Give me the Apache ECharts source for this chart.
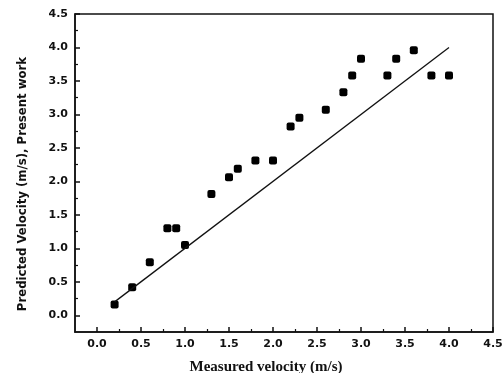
<!DOCTYPE html>
<html>
<head>
<meta charset="utf-8">
<script src="https://cdn.jsdelivr.net/npm/echarts@6/dist/echarts.min.js"></script>
<style>
  html, body { margin: 0; padding: 0; background: #fff; }
  #chart { width: 504px; height: 373px; }
</style>
</head>
<body>
<div id="chart"></div>
<script>
// measured vs predicted velocity (m/s)
var measured = [0.2, 0.4, 0.6, 0.8, 0.9, 1.0, 1.3, 1.5, 1.6, 1.8, 2.0, 2.2, 2.3, 2.6, 2.8, 2.9, 3.0, 3.3, 3.4, 3.6, 3.8, 4.0];
var predicted = [0.16, 0.42, 0.79, 1.30, 1.30, 1.05, 1.81, 2.06, 2.19, 2.31, 2.31, 2.82, 2.95, 3.07, 3.33, 3.58, 3.83, 3.58, 3.83, 3.96, 3.58, 3.58];
// y = x reference line
var lineX = [0.2, 4.0];
var lineY = [0.2, 4.0];
var majorTicks = [0, 0.5, 1, 1.5, 2, 2.5, 3, 3.5, 4, 4.5];
var minorTicks = [0.25, 0.75, 1.25, 1.75, 2.25, 2.75, 3.25, 3.75, 4.25];

var labelFont = { color: "#111", fontFamily: "DejaVu Sans", fontWeight: "bold", fontSize: 11 };

function axisPair(dim) {
  var main = {
    type: "value",
    min: -0.25,
    max: 4.5,
    splitLine: { show: false },
    axisLine: { show: true, onZero: false, lineStyle: { color: "#111", width: 1.5 } },
    axisTick: { show: true, inside: true, length: 5, customValues: majorTicks, lineStyle: { color: "#111", width: 1.5 } },
    axisLabel: Object.assign({ customValues: majorTicks, margin: 7, formatter: function (v) { return v.toFixed(1); } }, labelFont)
  };
  var minor = {
    type: "value",
    min: -0.25,
    max: 4.5,
    splitLine: { show: false },
    axisLine: { show: false, onZero: false },
    axisTick: { show: true, inside: true, length: 3, customValues: minorTicks, lineStyle: { color: "#111", width: 1.2 } },
    axisLabel: { show: false }
  };
  if (dim === "x") {
    main.position = "bottom"; minor.position = "bottom";
    main.name = "Measured velocity (m/s)";
    main.nameLocation = "middle";
    main.nameGap = 28;
    main.nameTextStyle = { color: "#111", fontFamily: "Liberation Serif", fontWeight: "bold", fontSize: 15, padding: [0, 36, 0, 0] };
  } else {
    main.position = "left"; minor.position = "left";
    main.name = "Predicted Velocity (m/s), Present work";
    main.nameLocation = "middle";
    main.nameGap = 46;
    main.nameTextStyle = { color: "#111", fontFamily: "Liberation Sans Narrow, DejaVu Sans Condensed", fontWeight: "bold", fontSize: 13, padding: [0, 22, 0, 0] };
  }
  return [main, minor];
}

var chart = echarts.init(document.getElementById("chart"), null, { renderer: "canvas" });
chart.setOption({
  animation: false,
  grid: { left: 75, right: 11, top: 14, bottom: 41, containLabel: false, outerBoundsMode: "none", show: true, borderColor: "#111", borderWidth: 1.5 },
  xAxis: axisPair("x"),
  yAxis: axisPair("y"),
  series: [
    {
      type: "line",
      data: lineX.map(function (x, i) { return [x, lineY[i]]; }),
      showSymbol: false,
      lineStyle: { color: "#111", width: 1.3 }
    },
    {
      type: "scatter",
      data: measured.map(function (x, i) { return [x, predicted[i]]; }),
      symbol: "roundRect",
      symbolSize: 8,
      itemStyle: { color: "#000", opacity: 1 }
    }
  ]
});
</script>
</body>
</html>
